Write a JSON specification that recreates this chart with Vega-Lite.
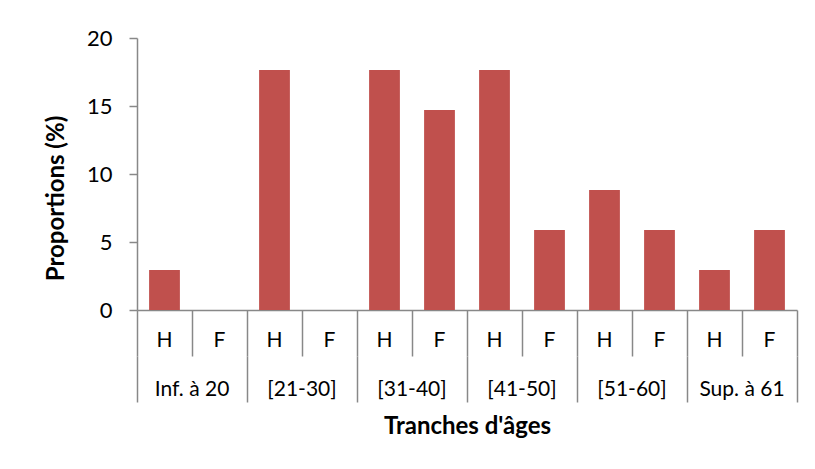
{
  "$schema": "https://vega.github.io/schema/vega-lite/v6.json",
  "width": 660,
  "height": 272,
  "autosize": "none",
  "padding": {"left": 137, "top": 38, "right": 18, "bottom": 159},
  "background": "white",
  "config": {
    "view": {"stroke": null},
    "font": "Lato",
    "axis": {"domainColor": "#888888", "tickColor": "#888888", "labelColor": "black", "titleColor": "black", "grid": false, "labelFont": "Lato", "titleFont": "Lato"}
  },
  "data": {
    "values": [
      {"id": "Inf. à 20|H", "groupe": "Inf. à 20", "sexe": "H", "proportion": 2.94},
      {"id": "Inf. à 20|F", "groupe": "Inf. à 20", "sexe": "F", "proportion": 0},
      {"id": "[21-30]|H", "groupe": "[21-30]", "sexe": "H", "proportion": 17.65},
      {"id": "[21-30]|F", "groupe": "[21-30]", "sexe": "F", "proportion": 0},
      {"id": "[31-40]|H", "groupe": "[31-40]", "sexe": "H", "proportion": 17.65},
      {"id": "[31-40]|F", "groupe": "[31-40]", "sexe": "F", "proportion": 14.71},
      {"id": "[41-50]|H", "groupe": "[41-50]", "sexe": "H", "proportion": 17.65},
      {"id": "[41-50]|F", "groupe": "[41-50]", "sexe": "F", "proportion": 5.88},
      {"id": "[51-60]|H", "groupe": "[51-60]", "sexe": "H", "proportion": 8.82},
      {"id": "[51-60]|F", "groupe": "[51-60]", "sexe": "F", "proportion": 5.88},
      {"id": "Sup. à 61|H", "groupe": "Sup. à 61", "sexe": "H", "proportion": 2.94},
      {"id": "Sup. à 61|F", "groupe": "Sup. à 61", "sexe": "F", "proportion": 5.88}
    ]
  },
  "layer": [
    {
      "mark": {"type": "bar", "color": "#C0504D", "width": {"band": 0.56}},
      "encoding": {
        "x": {
          "field": "id", "type": "nominal", "sort": null,
          "scale": {"paddingInner": 0, "paddingOuter": 0},
          "axis": {
            "title": null, "labelAngle": 0, "labelExpr": "split(datum.value, '|')[1]",
            "bandPosition": 1, "tickExtra": true, "tickSize": 46, "labelPadding": -27,
            "labelFontSize": 21, "domainWidth": 1.5, "tickWidth": 1.5
          }
        },
        "y": {
          "field": "proportion", "type": "quantitative",
          "scale": {"domain": [0, 20]},
          "axis": {
            "title": "Proportions (%)", "values": [0, 5, 10, 15, 20], "tickSize": 8, "labelPadding": 17,
            "labelFontSize": 22, "titleFontSize": 24, "titleFontWeight": "bold", "titlePadding": 18,
            "titleY": 160, "domainWidth": 1.5, "tickWidth": 1.5
          }
        }
      }
    },
    {
      "mark": {"type": "bar", "opacity": 0},
      "encoding": {
        "x": {
          "field": "groupe", "type": "nominal", "sort": null,
          "scale": {"paddingInner": 0, "paddingOuter": 0},
          "axis": {
            "orient": "bottom", "offset": 46, "domain": false,
            "title": "Tranches d'âges", "titleFontSize": 24, "titleFontWeight": "bold", "titlePadding": 12,
            "labelAngle": 0, "bandPosition": 1, "tickExtra": true, "tickSize": 46, "labelPadding": -24,
            "labelFontSize": 21, "tickWidth": 1.5
          }
        }
      }
    }
  ],
  "resolve": {"scale": {"x": "independent"}}
}
